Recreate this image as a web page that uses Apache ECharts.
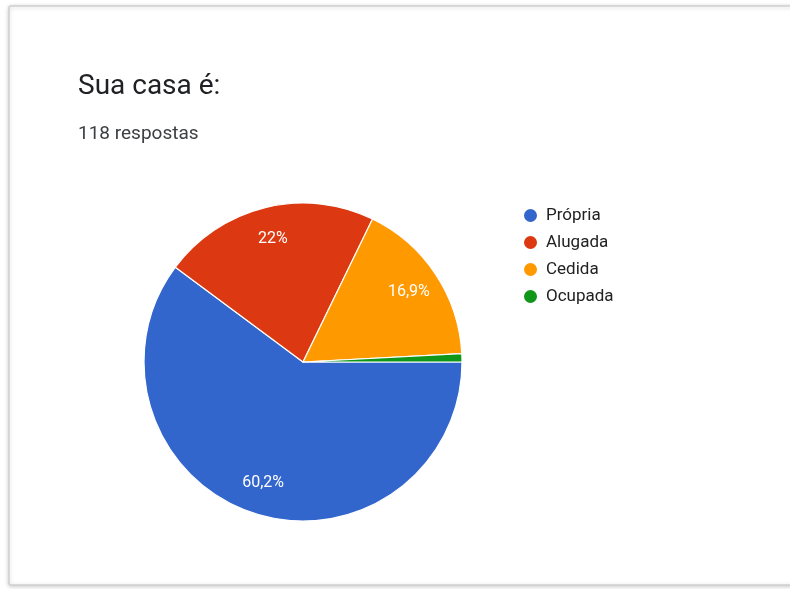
<!DOCTYPE html>
<html>
<head>
<meta charset="utf-8">
<script src="https://cdn.jsdelivr.net/npm/echarts@6/dist/echarts.min.js"></script>
<style>
  html, body { margin: 0; padding: 0; background: #ffffff; }
  #chart { width: 790px; height: 589px; }
</style>
</head>
<body>
<div id="chart"></div>
<script>
// Survey answers: "Sua casa é:" (118 respostas)
const categories = ['Própria', 'Alugada', 'Cedida', 'Ocupada'];
const counts = [71, 26, 20, 1];
const percentLabels = ['60,2%', '22%', '16,9%', ''];
const sliceColors = ['#3366cc', '#dc3912', '#ff9900', '#109618'];

const pieData = categories.map((name, i) => ({
  name: name,
  value: counts[i],
  itemStyle: { color: sliceColors[i] }
}));

// Same slices again as a transparent ring, only used to place the
// percentage labels part-way out towards the rim.
const labelData = categories.map((name, i) => ({
  name: name,
  value: counts[i],
  label: { show: percentLabels[i] !== '', formatter: percentLabels[i] }
}));

const chart = echarts.init(document.getElementById('chart'), null, { renderer: 'canvas' });

const center = [303, 362];
const radius = 159;

chart.setOption({
  animation: false,
  backgroundColor: '#ffffff',
  graphic: [{
    type: 'rect',
    shape: { x: 9, y: 6, width: 800, height: 579, r: 2 },
    style: {
      fill: '#ffffff',
      stroke: '#d0d0d0',
      lineWidth: 1.5,
      shadowBlur: 4,
      shadowColor: 'rgba(0,0,0,0.18)',
      shadowOffsetY: 1
    },
    z: -10
  }],
  title: {
    text: 'Sua casa é:',
    subtext: '118 respostas',
    left: 73,
    top: 68,
    itemGap: 24,
    textStyle: {
      fontFamily: 'Roboto',
      fontSize: 28,
      fontWeight: 'normal',
      color: '#202124'
    },
    subtextStyle: {
      fontFamily: 'Roboto',
      fontSize: 19,
      color: '#3c4043'
    }
  },
  legend: {
    orient: 'vertical',
    left: 517,
    top: 202,
    icon: 'circle',
    itemWidth: 15,
    itemHeight: 15,
    itemGap: 10,
    data: categories,
    textStyle: {
      fontFamily: 'Roboto',
      fontSize: 17,
      color: '#222222',
      padding: [0, 0, 0, 3]
    }
  },
  series: [
    {
      type: 'pie',
      center: center,
      radius: radius,
      startAngle: 0,
      clockwise: true,
      silent: true,
      label: { show: false },
      labelLine: { show: false },
      itemStyle: { borderColor: '#ffffff', borderWidth: 1.2 },
      data: pieData
    },
    {
      type: 'pie',
      center: center,
      radius: [radius * 0.56, radius],
      startAngle: 0,
      clockwise: true,
      silent: true,
      legendHoverLink: false,
      itemStyle: { color: 'transparent', borderWidth: 0 },
      label: {
        position: 'inside',
        fontFamily: 'Roboto',
        fontSize: 16,
        color: '#ffffff'
      },
      labelLine: { show: false },
      data: labelData
    }
  ]
});
</script>
</body>
</html>
